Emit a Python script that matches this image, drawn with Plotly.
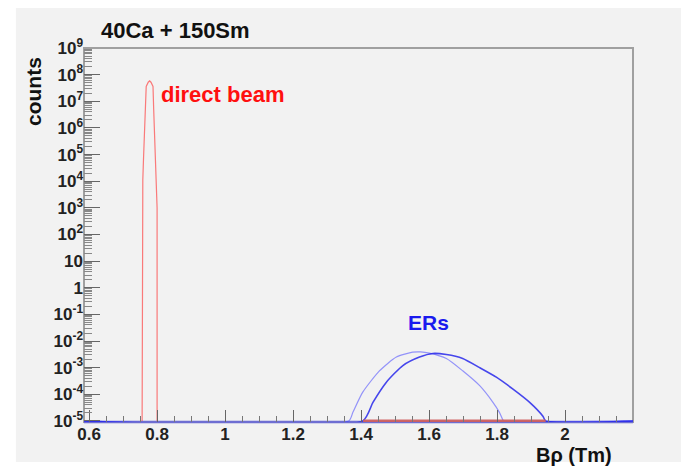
import plotly.graph_objects as go

# ---------------- data ----------------
# direct beam (red) : B-rho (Tm) and counts
beam_x = [0.756, 0.757, 0.758, 0.760, 0.766, 0.768, 0.774, 0.778, 0.782, 0.788, 0.790, 0.796, 0.798, 0.800, 0.800]
beam_y = [0, 1.0e3, 1.1e4, 6.5e4, 4.9e6, 3.6e7, 5.2e7, 5.8e7, 5.2e7, 3.6e7, 4.9e6, 6.5e4, 1.1e4, 1.0e3, 0]
# empty beam bins visible along the floor
beam_zero_x = [1.406, 1.943]
beam_zero_y = [0, 0]

# evaporation residues (blue), two settings
er1_x = [0.585, 1.364, 1.376, 1.405, 1.454, 1.504, 1.552, 1.575, 1.601, 1.651, 1.699, 1.749, 1.788, 1.807, 1.817, 1.820, 2.2]
er1_y = [0, 0, 2.1e-5, 1.2e-4, 7.6e-4, 2.5e-3, 3.8e-3, 3.9e-3, 3.5e-3, 2.2e-3, 7.6e-4, 2.1e-4, 5.0e-5, 2.1e-5, 1.1e-5, 0, 0]
er2_x = [0.585, 1.405, 1.435, 1.474, 1.523, 1.572, 1.611, 1.651, 1.699, 1.749, 1.798, 1.846, 1.896, 1.935, 1.943, 2.2]
er2_y = [0, 0, 5.0e-5, 2.8e-4, 1.2e-3, 2.5e-3, 3.4e-3, 3.1e-3, 2.2e-3, 1.0e-3, 4.4e-4, 1.6e-4, 5.0e-5, 1.5e-5, 0, 0]

x_tick_vals = [0.6, 0.8, 1.0, 1.2, 1.4, 1.6, 1.8, 2.0]
x_tick_text = ["0.6", "0.8", "1", "1.2", "1.4", "1.6", "1.8", "2"]
y_exponents = list(range(-5, 10))

# ---------------- style ----------------
FLOOR = 1e-5
FONT = "Liberation Sans"
BG = "#f2f2f2"


def floor(vals):
    return [v if v > 0 else FLOOR for v in vals]


def ylabel(e):
    if e == 0:
        return "1"
    if e == 1:
        return "10"
    return "10<sup>%d</sup>" % e


fig = go.Figure()
fig.add_trace(go.Scatter(x=beam_x, y=floor(beam_y), mode="lines",
                         line=dict(color="rgba(255,40,40,0.6)", width=1.2)))
fig.add_trace(go.Scatter(x=er1_x, y=floor(er1_y), mode="lines",
                         line=dict(color="rgba(70,70,255,0.55)", width=1.2, shape="spline", smoothing=0.6)))
fig.add_trace(go.Scatter(x=er2_x, y=floor(er2_y), mode="lines",
                         line=dict(color="rgba(40,40,235,0.85)", width=1.6, shape="spline", smoothing=0.6)))
fig.add_trace(go.Scatter(x=beam_zero_x, y=floor(beam_zero_y), mode="lines",
                         line=dict(color="rgba(205,95,95,0.95)", width=3)))

minor_vals = [k * 10.0 ** e for e in range(-5, 9) for k in range(2, 10)]
x_minor = [0.6 + 0.05 * i for i in range(0, 33)]

# page body adds an 8px offset; margins compensate so the frame sits where the reference has it
fig.update_layout(
    width=689, height=467,
    margin=dict(l=76, r=64, t=40, b=53),
    paper_bgcolor="white", plot_bgcolor=BG,
    showlegend=False,
    font=dict(family=FONT, color="#222", size=16, weight="bold"),
    xaxis=dict(range=[0.585, 2.2], showgrid=False, zeroline=False,
               tickmode="array", tickvals=x_tick_vals, ticktext=x_tick_text,
               ticks="inside", ticklen=12, tickcolor="#666", tickwidth=1,
               minor=dict(ticks="inside", ticklen=6, tickcolor="#777", tickmode="array",
                          tickvals=x_minor, showgrid=False),
               tickfont=dict(size=17, family=FONT, weight="bold", color="#222"),
               showline=False),
    yaxis=dict(type="log", range=[-5.04, 9], showgrid=False, zeroline=False,
               tickmode="array", tickvals=[10.0 ** e for e in y_exponents],
               ticktext=[ylabel(e) for e in y_exponents],
               ticks="inside", ticklen=16, tickcolor="#666", tickwidth=1,
               minor=dict(ticks="inside", ticklen=8, tickcolor="#888", tickmode="array",
                          tickvals=minor_vals, showgrid=False),
               tickfont=dict(size=17, family=FONT, weight="bold", color="#222"),
               showline=False),
)

# canvas background and frame
fig.add_shape(type="rect", xref="paper", yref="paper", x0=-0.124, x1=1.102, y0=-0.107, y1=1.2,
              fillcolor=BG, line=dict(width=0), layer="below")
fig.add_shape(type="rect", xref="paper", yref="paper", x0=0, x1=1, y0=0, y1=1,
              line=dict(color="#a0a0a0", width=2), layer="below")
fig.add_shape(type="line", xref="paper", yref="paper", x0=0, x1=1, y0=0, y1=0,
              line=dict(color="#6e6ed2", width=2.5), layer="below")

fig.add_annotation(text="40Ca + 150Sm", xref="paper", yref="paper", x=(99 - 84) / 549, y=(422 - 30) / 374,
                   xanchor="left", yanchor="middle", showarrow=False,
                   font=dict(size=22, family=FONT, weight="bold", color="#111"))
fig.add_annotation(text="counts", xref="paper", yref="paper", x=(33 - 84) / 549, y=(422 - 92) / 374,
                   textangle=-90, xanchor="center", yanchor="middle", showarrow=False,
                   font=dict(size=21, family=FONT, weight="bold", color="#111"))
fig.add_annotation(text="Bρ (Tm)", xref="paper", yref="paper", x=(614 - 84) / 549, y=(422 - 455) / 374,
                   xanchor="right", yanchor="middle", showarrow=False,
                   font=dict(size=20, family=FONT, weight="bold", color="#111"))
fig.add_annotation(text="direct beam", xref="paper", yref="paper", x=(159 - 84) / 549, y=(422 - 95) / 374,
                   xanchor="left", yanchor="middle", showarrow=False,
                   font=dict(size=22, family=FONT, weight="bold", color="#ff1010"))
fig.add_annotation(text="ERs", xref="paper", yref="paper", x=(428 - 84) / 549, y=(422 - 322) / 374,
                   xanchor="center", yanchor="middle", showarrow=False,
                   font=dict(size=21, family=FONT, weight="bold", color="#1a1aee"))

fig.write_html("out.html")
